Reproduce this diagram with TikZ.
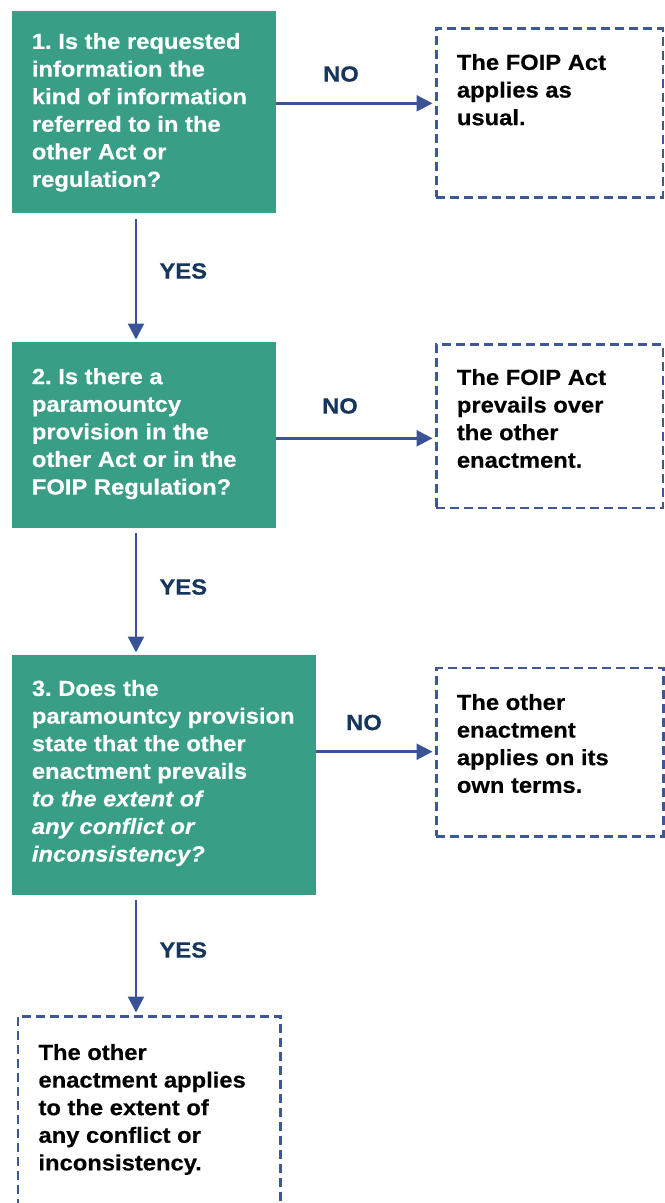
\documentclass[tikz,border=0pt]{standalone}
\usepackage{fontspec}
\setmainfont{Liberation Sans}[FakeStretch=1.08,BoldFeatures={FakeBold=0.4},BoldItalicFeatures={FakeBold=0.4}]
\usetikzlibrary{arrows.meta,calc}
\definecolor{qgreen}{RGB}{56,158,134}
\definecolor{arrblue}{RGB}{58,82,150}
\definecolor{dashblue}{RGB}{62,88,150}
\definecolor{lblnavy}{RGB}{22,54,92}
\frenchspacing
\begin{document}
\begin{tikzpicture}[x=1bp,y=-1bp,
  gbox/.style={fill=qgreen,draw=none,anchor=north west,inner sep=0pt},
  dbox/.style={draw=dashblue,line width=2.5bp,dash pattern=on 9bp off 5bp,anchor=north west,inner sep=0pt},
  txt/.style={anchor=north west,inner sep=0pt,align=left,font=\fontsize{22bp}{27.6bp}\selectfont\bfseries},
  wtxt/.style={txt,text=white},
  btxt/.style={txt,text=black},
  lbl/.style={inner sep=0pt,text=lblnavy,font=\fontsize{22bp}{27.6bp}\selectfont\bfseries},
  arr/.style={draw=arrblue,line width=2.5bp,-{Triangle[length=16bp,width=16bp]},shorten >=2.5bp}]
\useasboundingbox (0,0) rectangle (665,1203);
\clip (0,0) rectangle (665,1203);
% question boxes
\node[gbox,minimum width=264bp,minimum height=201.7bp] (q1) at (12,11) {};
\node[gbox,minimum width=264bp,minimum height=186bp] (q2) at (12,342) {};
\node[gbox,minimum width=304bp,minimum height=240bp] (q3) at (12,655) {};
% answer boxes
\node[dbox,minimum width=226.7bp,minimum height=168.7bp] (a1) at (435,27.3) {};
\node[dbox,minimum width=226.7bp,minimum height=163.4bp] (a2) at (435,343.3) {};
\node[dbox,minimum width=227bp,minimum height=168.3bp] (a3) at (435,666.7) {};
\node[dbox,minimum width=262.6bp,minimum height=230bp] (a4) at (16.7,1015) {};
% texts
\node[wtxt] (t1) at (31.7,32.8) {1. Is the requested\\information the\\kind of information\\referred to in the\\other Act or\\regulation?};
\node[wtxt] (t2) at (31.7,368) {2. Is there a\\paramountcy\\provision in the\\other Act or in the\\FOIP Regulation?};
\node[wtxt] (t3) at (31.7,679.8) {3. Does the\\paramountcy provision\\state that the other\\enactment prevails\\\textit{to the extent of}\\\textit{any conflict or}\\\textit{inconsistency?}};
\node[btxt] (u1) at (456.7,53.8) {The FOIP Act\\applies as\\usual.};
\node[btxt] (u2) at (456.7,368.8) {The FOIP Act\\prevails over\\the other\\enactment.};
\node[btxt] (u3) at (456.7,693.8) {The other\\enactment\\applies on its\\own terms.};
\node[btxt] (u4) at (38.3,1043.8) {The other\\enactment applies\\to the extent of\\any conflict or\\inconsistency.};
% connectors
\draw[arr] (q1.east |- 0,103.3) -- (a1.west |- 0,103.3);
\draw[arr] (q2.east |- 0,438.3) -- (a2.west |- 0,438.3);
\draw[arr] (q3.east |- 0,751.7) -- (a3.west |- 0,751.7);
\draw[arr] ($(q1.south -| 136,0)+(0,6)$) -- (q2.north -| 136,0);
\draw[arr] ($(q2.south -| 136,0)+(0,5)$) -- (q3.north -| 136,0);
\draw[arr] ($(q3.south -| 136,0)+(0,5)$) -- (a4.north -| 136,0);
% labels
\node[lbl] (n1) at (341,74) {NO};
\node[lbl] (n2) at (340,406) {NO};
\node[lbl] (n3) at (364,722.5) {NO};
\node[lbl] (y1) at (183.3,271) {YES};
\node[lbl] (y2) at (183.3,587) {YES};
\node[lbl] (y3) at (183.3,950) {YES};
\end{tikzpicture}
\end{document}
